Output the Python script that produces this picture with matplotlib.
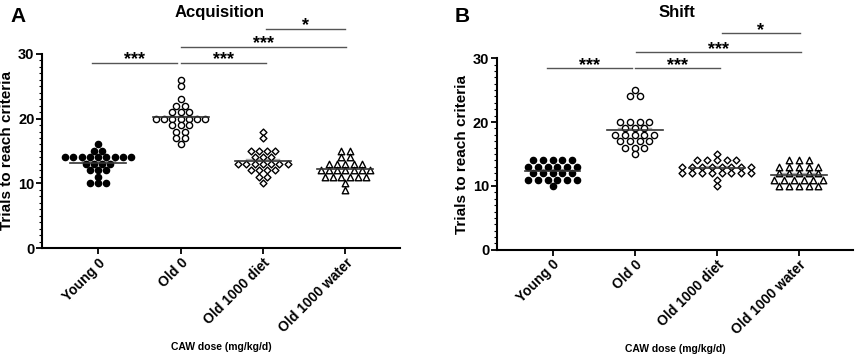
import numpy as np
import matplotlib
matplotlib.use('Agg')
import matplotlib.pyplot as plt
from matplotlib.ticker import MultipleLocator

plt.rcParams['font.family'] = ['Liberation Sans', 'DejaVu Sans']
plt.rcParams['font.weight'] = 'bold'

groups = ['Young 0', 'Old 0', 'Old 1000 diet', 'Old 1000 water']
markers = ['o', 'o', 'D', '^']
msizes = [20, 20, 12, 22]
filled = [True, False, False, False]

# values: {trials: count} per group
acq_young = {16: 1, 15: 2, 14: 9, 13: 4, 12: 3, 11: 1, 10: 3}
acq_old = {26: 1, 25: 1, 23: 1, 22: 2, 21: 3, 20: 7, 19: 3, 18: 2, 17: 2, 16: 1}
acq_diet = {18: 1, 17: 1, 15: 4, 14: 3, 13: 7, 12: 4, 11: 2, 10: 1}
acq_water = {15: 2, 14: 2, 13: 5, 12: 7, 11: 6, 10: 1, 9: 1}

shift_young = {14: 5, 13: 6, 12: 5, 11: 6, 10: 1}
shift_old = {25: 1, 24: 2, 20: 4, 19: 3, 18: 5, 17: 4, 16: 3, 15: 1}
shift_diet = {15: 1, 14: 5, 13: 8, 12: 8, 11: 1, 10: 1}
shift_water = {14: 3, 13: 5, 12: 5, 11: 6, 10: 5}

# significance bars: (x start, x end, y, label)
acq_sig = [(-0.07, 0.96, 28.6, '***'), (1.0, 2.04, 28.6, '***'),
           (1.0, 3.01, 31.1, '***'), (2.04, 2.99, 33.9, '*')]
shift_sig = [(-0.07, 0.97, 28.4, '***'), (1.0, 2.04, 28.4, '***'),
             (1.02, 3.03, 30.9, '***'), (2.07, 3.01, 33.9, '*')]


def swarm(counts, dx):
    xs, ys = [], []
    for v, n in counts.items():
        off = (np.arange(n) - (n - 1) / 2) * dx
        xs.extend(off)
        ys.extend([v] * n)
    return np.array(xs), np.array(ys)


def panel(ax, data, sig, title, letter, dx, lx, tx):
    for i, counts in enumerate(data):
        xs, ys = swarm(counts, dx)
        ax.scatter(xs + i, ys, s=msizes[i], marker=markers[i],
                   facecolors='black' if filled[i] else 'white',
                   edgecolors='black', linewidths=1.0, zorder=3,
                   clip_on=False)
        m = ys.mean()
        ax.plot([i - 0.34, i + 0.34], [m, m], color='#333333', lw=1.2, zorder=4)
        ax.plot([i - 0.2, i + 0.2], [m + 0.3, m + 0.3], color='#aaaaaa', lw=1, zorder=2)
    for x0, x1, y, lab in sig:
        ax.plot([x0, x1], [y, y], color='#555555', lw=1, clip_on=False)
        ax.text((x0 + x1) / 2, y + 0.45, lab, ha='center', va='center',
                fontsize=13, fontweight='bold')
    ax.set_ylim(0, 30)
    ax.set_xlim(-0.68, 3.66)
    ax.set_xticks(range(4))
    ax.set_xticklabels(groups, rotation=45, ha='right', rotation_mode='anchor',
                       fontsize=10, fontweight='bold')
    ax.set_yticks([0, 10, 20, 30])
    ax.set_yticklabels(['0', '10', '20', '30'], fontsize=10.5, fontweight='bold')
    ax.yaxis.set_minor_locator(MultipleLocator(1))
    ax.tick_params(axis='both', which='major', length=4, width=1.3, pad=1.5)
    ax.tick_params(axis='y', which='minor', length=2, width=0.8)
    for s in ['top', 'right']:
        ax.spines[s].set_visible(False)
    for s in ['left', 'bottom']:
        ax.spines[s].set_linewidth(1.5)
    ax.set_ylabel('Trials to reach criteria', fontsize=11, fontweight='bold', labelpad=3)
    ax.set_xlabel('CAW dose (mg/kg/d)', fontsize=7.5, fontweight='bold', labelpad=5)
    fig.text(tx, 0.965, title, fontsize=12, fontweight='bold', ha='center', va='center')
    fig.text(lx, 0.955, letter, fontsize=15, fontweight='bold', va='center')


fig = plt.figure(figsize=(8.58, 3.59), dpi=100)
ax1 = fig.add_axes([0.049, 0.309, 0.417, 0.541])
ax2 = fig.add_axes([0.579, 0.304, 0.415, 0.534])

panel(ax1, [acq_young, acq_old, acq_diet, acq_water], acq_sig,
      'Acquisition', 'A', 0.10, 0.012, 0.256)
panel(ax2, [shift_young, shift_old, shift_diet, shift_water], shift_sig,
      'Shift', 'B', 0.12, 0.530, 0.789)

fig.savefig('out.png', dpi=100)
